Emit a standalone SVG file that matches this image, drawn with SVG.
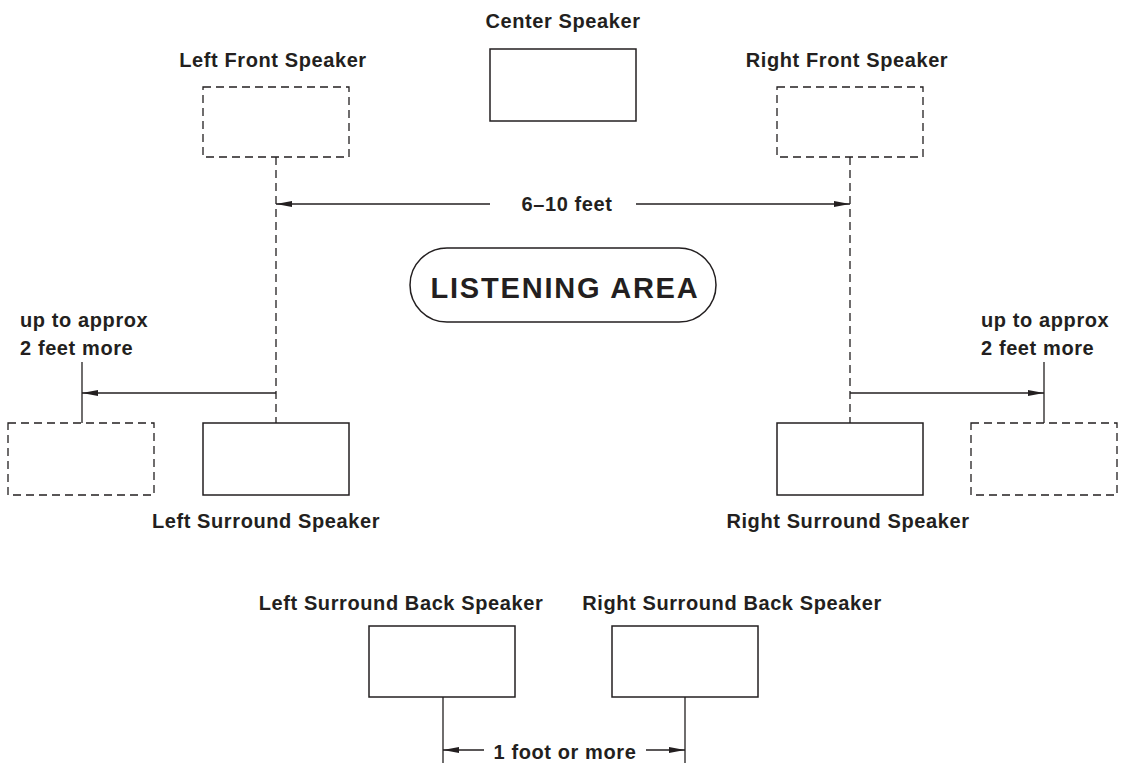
<svg xmlns="http://www.w3.org/2000/svg" width="1121" height="763" viewBox="0 0 1121 763">
<style>
text{font-family:"Liberation Sans",Arial,sans-serif;font-weight:bold;fill:#231f20;font-size:20px;letter-spacing:0.6px}
.lbl{text-anchor:middle}
.big{font-size:29px;letter-spacing:1.8px;text-anchor:middle}
.box{fill:#fff;stroke:#231f20;stroke-width:1.5}
.dbox{fill:none;stroke:#231f20;stroke-width:1.3;stroke-dasharray:8 5}
.ln{fill:none;stroke:#231f20;stroke-width:1.3}
.dl{fill:none;stroke:#231f20;stroke-width:1.3;stroke-dasharray:8 5}
</style>
<defs>
<marker id="ah" viewBox="0 0 16 6" refX="16" refY="3" markerWidth="16" markerHeight="6" markerUnits="userSpaceOnUse" orient="auto">
<path d="M0,0 L16,3 L0,6 Z" fill="#231f20"/>
</marker>
</defs>
<rect width="1121" height="763" fill="#fff"/>
<g id="center">
<text class="lbl" x="563" y="28">Center Speaker</text>
<rect class="box" x="490" y="49" width="146" height="72"/>
</g>
<g id="left-front">
<text class="lbl" x="273" y="67">Left Front Speaker</text>
<rect class="dbox" x="203" y="87" width="146" height="70"/>
</g>
<g id="right-front">
<text class="lbl" x="847" y="67">Right Front Speaker</text>
<rect class="dbox" x="777" y="87" width="146" height="70"/>
</g>
<g id="listening-area">
<rect class="box" x="410" y="248" width="306" height="74" rx="37" ry="37" fill="none"/>
<text class="big" x="565" y="298">LISTENING AREA</text>
</g>
<g id="left-surround">
<rect class="box" x="203" y="423" width="146" height="72"/>
<text class="lbl" x="266" y="528">Left Surround Speaker</text>
</g>
<g id="left-surround-alt">
<rect class="dbox" x="8" y="423" width="146" height="72"/>
</g>
<g id="right-surround">
<rect class="box" x="777" y="423" width="146" height="72"/>
<text class="lbl" x="848" y="528">Right Surround Speaker</text>
</g>
<g id="right-surround-alt">
<rect class="dbox" x="971" y="423" width="146" height="72"/>
</g>
<g id="left-back">
<text class="lbl" x="401" y="610">Left Surround Back Speaker</text>
<rect class="box" x="369" y="626" width="146" height="71"/>
</g>
<g id="right-back">
<text class="lbl" x="732" y="610">Right Surround Back Speaker</text>
<rect class="box" x="612" y="626" width="146" height="71"/>
</g>
<g id="notes">
<text x="20" y="327">up to approx</text>
<text x="20" y="355">2 feet more</text>
<text x="981" y="327">up to approx</text>
<text x="981" y="355">2 feet more</text>
<text class="lbl" x="567" y="211">6–10 feet</text>
<text class="lbl" x="565" y="759">1 foot or more</text>
</g>
<g id="connectors">
<path class="dl" d="M276,157 V423"/>
<path class="dl" d="M850,157 V423"/>
<path class="ln" d="M490,204 H276" marker-end="url(#ah)"/>
<path class="ln" d="M636,204 H850" marker-end="url(#ah)"/>
<path class="ln" d="M276,393 H82" marker-end="url(#ah)"/>
<path class="ln" d="M82,362 V423"/>
<path class="ln" d="M850,393 H1044" marker-end="url(#ah)"/>
<path class="ln" d="M1044,362 V423"/>
<path class="ln" d="M443,697 V763"/>
<path class="ln" d="M685,697 V763"/>
<path class="ln" d="M484,750 H443" marker-end="url(#ah)"/>
<path class="ln" d="M646,750 H685" marker-end="url(#ah)"/>
</g>
</svg>
